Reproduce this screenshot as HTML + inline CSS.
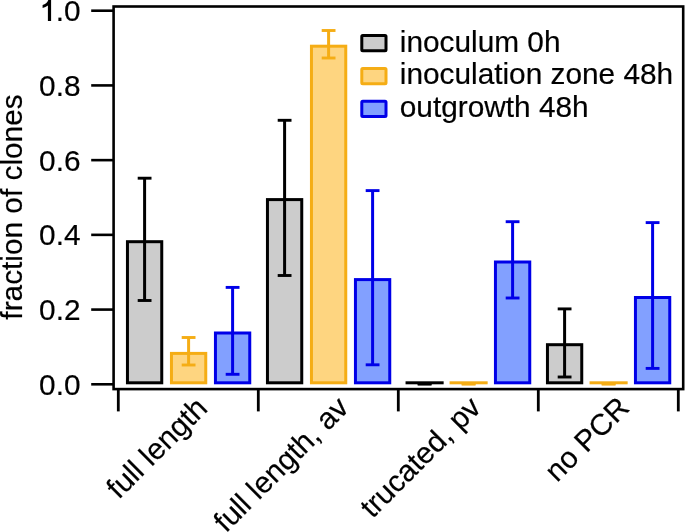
<!DOCTYPE html>
<html><head><meta charset="utf-8"><style>
html,body{margin:0;padding:0;background:#fff;}
svg{display:block;}
.t{filter:grayscale(1);}
.t{font-family:"Liberation Sans",sans-serif;font-size:29.8px;fill:#000;stroke:#000;stroke-width:0.2px;}
</style></head><body>
<svg width="685" height="532" viewBox="0 0 685 532">
<rect width="685" height="532" fill="#fff"/>
<rect x="127.45" y="241.70" width="34.30" height="141.10" fill="#cccccc" stroke="#000000" stroke-width="3.0"/>
<line x1="144.60" y1="178.20" x2="144.60" y2="300.50" stroke="#000000" stroke-width="3.0"/>
<line x1="137.70" y1="178.20" x2="151.50" y2="178.20" stroke="#000000" stroke-width="2.9"/>
<line x1="137.70" y1="300.50" x2="151.50" y2="300.50" stroke="#000000" stroke-width="2.9"/>
<rect x="171.45" y="353.40" width="34.30" height="29.40" fill="#fed580" stroke="#f5ad15" stroke-width="3.0"/>
<line x1="188.60" y1="337.50" x2="188.60" y2="365.00" stroke="#f5ad15" stroke-width="3.0"/>
<line x1="181.70" y1="337.50" x2="195.50" y2="337.50" stroke="#f5ad15" stroke-width="2.9"/>
<line x1="181.70" y1="365.00" x2="195.50" y2="365.00" stroke="#f5ad15" stroke-width="2.9"/>
<rect x="215.45" y="333.00" width="34.30" height="49.80" fill="#82a0ff" stroke="#0000e8" stroke-width="3.0"/>
<line x1="232.60" y1="287.40" x2="232.60" y2="374.30" stroke="#0000e8" stroke-width="3.0"/>
<line x1="225.70" y1="287.40" x2="239.50" y2="287.40" stroke="#0000e8" stroke-width="2.9"/>
<line x1="225.70" y1="374.30" x2="239.50" y2="374.30" stroke="#0000e8" stroke-width="2.9"/>
<rect x="267.45" y="199.60" width="34.30" height="183.20" fill="#cccccc" stroke="#000000" stroke-width="3.0"/>
<line x1="284.60" y1="120.30" x2="284.60" y2="275.50" stroke="#000000" stroke-width="3.0"/>
<line x1="277.70" y1="120.30" x2="291.50" y2="120.30" stroke="#000000" stroke-width="2.9"/>
<line x1="277.70" y1="275.50" x2="291.50" y2="275.50" stroke="#000000" stroke-width="2.9"/>
<rect x="311.45" y="46.20" width="34.30" height="336.60" fill="#fed580" stroke="#f5ad15" stroke-width="3.0"/>
<line x1="328.60" y1="30.50" x2="328.60" y2="58.00" stroke="#f5ad15" stroke-width="3.0"/>
<line x1="321.70" y1="30.50" x2="335.50" y2="30.50" stroke="#f5ad15" stroke-width="2.9"/>
<line x1="321.70" y1="58.00" x2="335.50" y2="58.00" stroke="#f5ad15" stroke-width="2.9"/>
<rect x="355.45" y="279.60" width="34.30" height="103.20" fill="#82a0ff" stroke="#0000e8" stroke-width="3.0"/>
<line x1="372.60" y1="190.60" x2="372.60" y2="364.80" stroke="#0000e8" stroke-width="3.0"/>
<line x1="365.70" y1="190.60" x2="379.50" y2="190.60" stroke="#0000e8" stroke-width="2.9"/>
<line x1="365.70" y1="364.80" x2="379.50" y2="364.80" stroke="#0000e8" stroke-width="2.9"/>
<rect x="405.55" y="381.30" width="38.10" height="3.00" fill="#000000"/>
<line x1="417.70" y1="383.90" x2="431.50" y2="383.90" stroke="#000000" stroke-width="2.9"/>
<line x1="417.70" y1="383.90" x2="431.50" y2="383.90" stroke="#000000" stroke-width="2.9"/>
<rect x="449.55" y="381.30" width="38.10" height="3.00" fill="#f5ad15"/>
<line x1="461.70" y1="383.90" x2="475.50" y2="383.90" stroke="#f5ad15" stroke-width="2.9"/>
<line x1="461.70" y1="383.90" x2="475.50" y2="383.90" stroke="#f5ad15" stroke-width="2.9"/>
<rect x="495.45" y="262.00" width="34.30" height="120.80" fill="#82a0ff" stroke="#0000e8" stroke-width="3.0"/>
<line x1="512.60" y1="221.70" x2="512.60" y2="298.00" stroke="#0000e8" stroke-width="3.0"/>
<line x1="505.70" y1="221.70" x2="519.50" y2="221.70" stroke="#0000e8" stroke-width="2.9"/>
<line x1="505.70" y1="298.00" x2="519.50" y2="298.00" stroke="#0000e8" stroke-width="2.9"/>
<rect x="547.45" y="344.70" width="34.30" height="38.10" fill="#cccccc" stroke="#000000" stroke-width="3.0"/>
<line x1="564.60" y1="308.90" x2="564.60" y2="377.00" stroke="#000000" stroke-width="3.0"/>
<line x1="557.70" y1="308.90" x2="571.50" y2="308.90" stroke="#000000" stroke-width="2.9"/>
<line x1="557.70" y1="377.00" x2="571.50" y2="377.00" stroke="#000000" stroke-width="2.9"/>
<rect x="589.55" y="381.30" width="38.10" height="3.00" fill="#f5ad15"/>
<line x1="601.70" y1="383.90" x2="615.50" y2="383.90" stroke="#f5ad15" stroke-width="2.9"/>
<line x1="601.70" y1="383.90" x2="615.50" y2="383.90" stroke="#f5ad15" stroke-width="2.9"/>
<rect x="635.45" y="297.50" width="34.30" height="85.30" fill="#82a0ff" stroke="#0000e8" stroke-width="3.0"/>
<line x1="652.60" y1="222.60" x2="652.60" y2="368.40" stroke="#0000e8" stroke-width="3.0"/>
<line x1="645.70" y1="222.60" x2="659.50" y2="222.60" stroke="#0000e8" stroke-width="2.9"/>
<line x1="645.70" y1="368.40" x2="659.50" y2="368.40" stroke="#0000e8" stroke-width="2.9"/>
<rect x="113.6" y="6.5" width="569.6" height="382.6" fill="none" stroke="#000" stroke-width="2.6"/>
<line x1="91.2" y1="384.30" x2="113.6" y2="384.30" stroke="#000" stroke-width="2.6"/>
<text x="80.5" y="394.80" text-anchor="end" class="t">0.0</text>
<line x1="91.2" y1="309.58" x2="113.6" y2="309.58" stroke="#000" stroke-width="2.6"/>
<text x="80.5" y="320.08" text-anchor="end" class="t">0.2</text>
<line x1="91.2" y1="234.86" x2="113.6" y2="234.86" stroke="#000" stroke-width="2.6"/>
<text x="80.5" y="245.36" text-anchor="end" class="t">0.4</text>
<line x1="91.2" y1="160.14" x2="113.6" y2="160.14" stroke="#000" stroke-width="2.6"/>
<text x="80.5" y="170.64" text-anchor="end" class="t">0.6</text>
<line x1="91.2" y1="85.42" x2="113.6" y2="85.42" stroke="#000" stroke-width="2.6"/>
<text x="80.5" y="95.92" text-anchor="end" class="t">0.8</text>
<line x1="91.2" y1="10.70" x2="113.6" y2="10.70" stroke="#000" stroke-width="2.6"/>
<text x="80.5" y="21.20" text-anchor="end" class="t">.0</text>
<path d="M51.1,0 L51.1,20.9 L47.9,20.9 L47.9,5.5 C46.4,6.7 44.6,7.5 42.6,7.9 L42.6,5.0 C45.3,4.3 47.4,2.6 48.3,0 Z" fill="#000"/>
<line x1="118.30" y1="389" x2="118.30" y2="411.4" stroke="#000" stroke-width="2.8"/>
<line x1="258.30" y1="389" x2="258.30" y2="411.4" stroke="#000" stroke-width="2.8"/>
<line x1="398.30" y1="389" x2="398.30" y2="411.4" stroke="#000" stroke-width="2.8"/>
<line x1="538.30" y1="389" x2="538.30" y2="411.4" stroke="#000" stroke-width="2.8"/>
<line x1="678.30" y1="389" x2="678.30" y2="411.4" stroke="#000" stroke-width="2.8"/>
<text x="0" y="0" text-anchor="end" class="t" transform="translate(209.00,409.80) rotate(-45)">full length</text>
<text x="0" y="0" text-anchor="end" class="t" transform="translate(350.20,409.30) rotate(-45)">full length, av</text>
<text x="0" y="0" text-anchor="end" class="t" transform="translate(482.50,409.10) rotate(-45)">trucated, pv</text>
<text x="0" y="0" text-anchor="end" class="t" transform="translate(630.90,409.20) rotate(-45)">no PCR</text>
<rect x="361.80" y="35.50" width="24.20" height="15.30" rx="1" fill="#cccccc" stroke="#000000" stroke-width="3"/>
<text x="399.8" y="51.80" class="t">inoculum 0h</text>
<rect x="361.80" y="68.50" width="24.20" height="15.30" rx="1" fill="#fed580" stroke="#f5ad15" stroke-width="3"/>
<text x="399.8" y="84.25" class="t">inoculation zone 48h</text>
<rect x="361.80" y="101.30" width="24.20" height="15.30" rx="1" fill="#82a0ff" stroke="#0000e8" stroke-width="3"/>
<text x="399.8" y="116.70" class="t">outgrowth 48h</text>
<text x="0" y="0" text-anchor="middle" class="t" transform="translate(21.8,207) rotate(-90)">fraction of clones</text>
</svg>
</body></html>
